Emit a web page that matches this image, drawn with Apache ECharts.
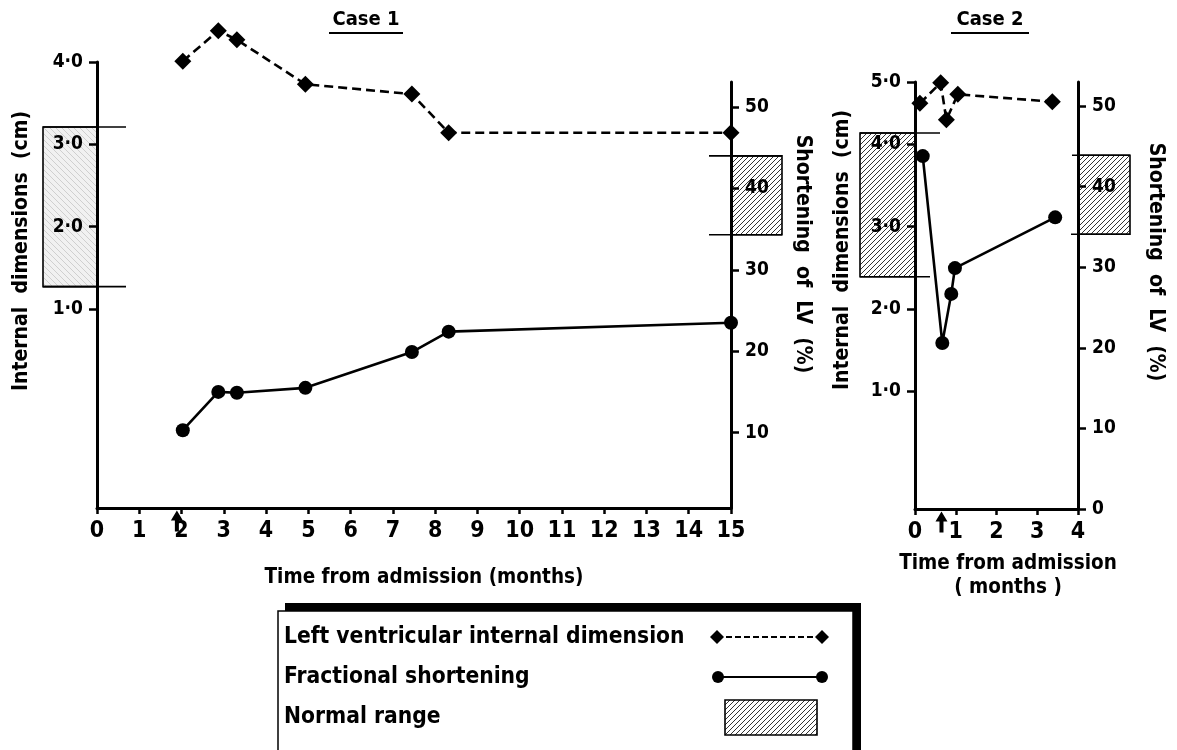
<!DOCTYPE html>
<html><head><meta charset="utf-8">
<script src="https://cdn.jsdelivr.net/npm/echarts@6/dist/echarts.min.js"></script>
<style>html,body{margin:0;padding:0;background:#fff}#c{width:1177px;height:750px}</style>
</head><body><div id="c"></div>
<script>
// ---------- data ----------
const case1Months = [2.03, 2.87, 3.31, 4.93, 7.45, 8.32, 15];
const case1LVID   = [4.01, 4.38, 4.27, 3.73, 3.61, 3.14, 3.14];   // cm
const case1FS     = [10.3, 15.0, 14.9, 15.5, 19.9, 22.4, 23.5];   // %
const case1Arrow  = [1.89];
const case1NormalLVID = [1.27, 3.21];
const case1NormalFS   = [34.3, 44.0];

const case2MonthsLVID = [0.12, 0.63, 0.77, 1.05, 3.37];
const case2LVID       = [4.50, 4.75, 4.30, 4.61, 4.52];
const case2MonthsFS   = [0.19, 0.67, 0.89, 0.98, 3.44];
const case2FS         = [43.8, 20.6, 26.7, 29.9, 36.2];
const case2Arrow      = [0.65];
const case2NormalLVID = [2.39, 4.14];
const case2NormalFS   = [34.1, 43.9];

const case1LeftTicks  = [1, 2, 3, 4];
const case1RightTicks = [10, 20, 30, 40, 50];
const case2LeftTicks  = [1, 2, 3, 4, 4.76];
const case2LeftTickLabels = ['1·0', '2·0', '3·0', '4·0', '5·0'];
const case2RightTicks = [0, 10, 20, 30, 40, 50];

const titles = ['Case 1', 'Case 2'];
const yNameLeft = 'Internal  dimensions  (cm)';
const yNameRight = 'Shortening  of  LV  (%)';
const xName = 'Time from admission (months)';
const xName2 = 'Time from admission\n( months )';
const legendLabels = ['Left ventricular internal dimension', 'Fractional shortening', 'Normal range'];

// ---------- styles ----------
const FF = '"DejaVu Sans Condensed", "DejaVu Sans", sans-serif';
const FN = '"Liberation Sans Narrow", "DejaVu Sans Condensed", sans-serif';
const font = (s) => 'bold ' + s + 'px ' + FF;

function hatch(bg, fg, dir, s, lw) {
  const c = document.createElement('canvas');
  c.width = s; c.height = s;
  const g = c.getContext('2d');
  g.fillStyle = bg; g.fillRect(0, 0, s, s);
  g.strokeStyle = fg; g.lineWidth = lw;
  g.beginPath();
  if (dir === '/') {
    g.moveTo(-1, s + 1); g.lineTo(s + 1, -1);
    g.moveTo(-1, 1); g.lineTo(1, -1);
    g.moveTo(s - 1, s + 1); g.lineTo(s + 1, s - 1);
  } else {
    g.moveTo(-1, -1); g.lineTo(s + 1, s + 1);
    g.moveTo(s - 1, -1); g.lineTo(s + 1, 1);
    g.moveTo(-1, s - 1); g.lineTo(1, s + 1);
  }
  g.stroke();
  return { image: c, repeat: 'repeat' };
}
const hatchDark = hatch('#ffffff', '#333333', '/', 5, 1);
const hatchLight = hatch('#f1f1f1', '#cfcfcf', '\\', 6, 1);

const dec = (v) => v.toFixed(1).replace('.', '·');
const zip = (a, b) => a.map((v, i) => [v, b[i]]);

function yAxisCfg(gridIndex, position, min, max, ticks, formatter) {
  return {
    type: 'value', gridIndex, position, min, max, z: 10,
    axisLine: { show: true, onZero: false, lineStyle: { color: '#000', width: 3 } },
    axisTick: { show: true, customValues: ticks, length: 8, lineStyle: { color: '#000', width: 2.5 } },
    axisLabel: { customValues: ticks, formatter, margin: 14, color: '#000', fontFamily: FF, fontWeight: 'bold', fontSize: 19 },
    splitLine: { show: false }
  };
}
function xAxisCfg(gridIndex, max, show) {
  return {
    type: 'value', gridIndex, min: 0, max, interval: 1, show, z: 10,
    axisLine: { show: true, onZero: false, lineStyle: { color: '#000', width: 3 } },
    axisTick: { show: true, length: 6, lineStyle: { color: '#000', width: 2.5 } },
    axisLabel: { margin: 12, color: '#000', fontFamily: FN, fontWeight: 'bold', fontSize: 23 },
    splitLine: { show: false }
  };
}

function rangeSeries(xi, yi, anchorX, range, side, boxW, extTop, extBot, pattern) {
  return {
    type: 'custom', xAxisIndex: xi, yAxisIndex: yi, clip: false, silent: true, z: 1,
    data: [[anchorX, range[0], range[1]]],
    encode: { x: 0, y: [1, 2] },
    renderItem: function (params, api) {
      const top = api.coord([api.value(0), api.value(2)]);
      const bot = api.coord([api.value(0), api.value(1)]);
      const ax = top[0];
      const x0 = side === 'left' ? ax - boxW : ax;
      const tl = side === 'left' ? x0 : ax - extTop;
      const tr = side === 'left' ? ax + extTop : ax + boxW;
      const bl = side === 'left' ? x0 : ax - extBot;
      const br = side === 'left' ? ax + extBot : ax + boxW;
      const ls = { stroke: '#000', lineWidth: 1.6 };
      return {
        type: 'group', children: [
          { type: 'rect', shape: { x: x0, y: top[1], width: boxW, height: bot[1] - top[1] }, style: { fill: pattern, stroke: '#000', lineWidth: 1.6 } },
          { type: 'line', shape: { x1: tl, y1: top[1], x2: tr, y2: top[1] }, style: ls },
          { type: 'line', shape: { x1: bl, y1: bot[1], x2: br, y2: bot[1] }, style: ls }
        ]
      };
    }
  };
}

const arrowPath = 'path://M6,0 L12,10 L8,10 L8,21 L4,21 L4,10 L0,10 Z';
function arrowSeries(xi, yi, months, yMin) {
  return {
    type: 'scatter', xAxisIndex: xi, yAxisIndex: yi, clip: false, silent: true, z: 12,
    symbol: arrowPath, symbolSize: [12, 21], symbolOffset: [0, 13],
    itemStyle: { color: '#000', opacity: 1 },
    data: months.map(m => [m, yMin])
  };
}
function lvidSeries(xi, yi, data) {
  return {
    type: 'line', xAxisIndex: xi, yAxisIndex: yi, clip: false, z: 4,
    data, symbol: 'diamond', symbolSize: 17, showSymbol: true,
    lineStyle: { color: '#000', width: 2.6, type: [9, 5] },
    itemStyle: { color: '#000' }
  };
}
function fsSeries(xi, yi, data) {
  return {
    type: 'line', xAxisIndex: xi, yAxisIndex: yi, clip: false, z: 4,
    data, symbol: 'circle', symbolSize: 14, showSymbol: true,
    lineStyle: { color: '#000', width: 2.6 },
    itemStyle: { color: '#000' }
  };
}

// axis ranges
const c1L = [-1.42, 4.0], c1R = [0.74, 53.07], c2L = [-0.437, 4.76], c2R = [0, 53];

const textEl = (text, x, y, size, rot, align) => ({
  type: 'text', x, y, rotation: rot || 0, silent: true, z: 20,
  style: { text, font: font(size), fill: '#000', textAlign: align || 'center', textVerticalAlign: 'middle' }
});

const option = {
  animation: false,
  backgroundColor: '#fff',
  textStyle: { fontFamily: FF, fontWeight: 'bold', color: '#000' },
  grid: [
    { left: 97, top: 62, width: 634, height: 446 },
    { left: 97, top: 82, width: 634, height: 426 },
    { left: 915, top: 82, width: 163, height: 427 }
  ],
  xAxis: [xAxisCfg(0, 15, true), xAxisCfg(1, 15, false), xAxisCfg(2, 4, true)],
  yAxis: [
    yAxisCfg(0, 'left', c1L[0], c1L[1], case1LeftTicks, dec),
    yAxisCfg(1, 'right', c1R[0], c1R[1], case1RightTicks, (v) => String(v)),
    yAxisCfg(2, 'left', c2L[0], c2L[1], case2LeftTicks, (v) => {
      let k = 0; case2LeftTicks.forEach((t, i) => { if (Math.abs(t - v) < Math.abs(case2LeftTicks[k] - v)) k = i; });
      return case2LeftTickLabels[k];
    }),
    yAxisCfg(2, 'right', c2R[0], c2R[1], case2RightTicks, (v) => String(v))
  ],
  series: [
    rangeSeries(0, 0, 0, case1NormalLVID, 'left', 54, 29, 29, hatchLight),
    rangeSeries(1, 1, 15, case1NormalFS, 'right', 51, 22, 22, hatchDark),
    rangeSeries(2, 2, 0, case2NormalLVID, 'left', 55, 25, 15, hatchDark),
    rangeSeries(2, 3, 4, case2NormalFS, 'right', 52, 6, 7, hatchDark),
    lvidSeries(0, 0, zip(case1Months, case1LVID)),
    fsSeries(1, 1, zip(case1Months, case1FS)),
    lvidSeries(2, 2, zip(case2MonthsLVID, case2LVID)),
    fsSeries(2, 3, zip(case2MonthsFS, case2FS)),
    arrowSeries(0, 0, case1Arrow, c1L[0]),
    arrowSeries(2, 2, case2Arrow, c2L[0])
  ],
  graphic: [
    textEl(titles[0], 366, 20, 20),
    { type: 'line', silent: true, shape: { x1: 329, y1: 33, x2: 403, y2: 33 }, style: { stroke: '#000', lineWidth: 1.8 } },
    textEl(titles[1], 990, 20, 20),
    { type: 'line', silent: true, shape: { x1: 951, y1: 33, x2: 1029, y2: 33 }, style: { stroke: '#000', lineWidth: 1.8 } },
    textEl(yNameLeft, 22, 251, 21, Math.PI / 2),
    textEl(yNameRight, 802, 254, 21, -Math.PI / 2),
    textEl(yNameLeft, 843, 250, 21, Math.PI / 2),
    textEl(yNameRight, 1155, 262, 21, -Math.PI / 2),
    textEl(xName, 424, 578, 20.5),
    { type: 'text', x: 1008, y: 576, silent: true, style: { text: xName2, font: font(20.5), fill: '#000', textAlign: 'center', textVerticalAlign: 'middle', lineHeight: 24 } },
    // legend
    { type: 'rect', silent: true, shape: { x: 285, y: 603, width: 576, height: 170 }, style: { fill: '#000' } },
    { type: 'rect', silent: true, shape: { x: 278, y: 611, width: 575, height: 170 }, style: { fill: '#fff', stroke: '#000', lineWidth: 1.5 } },
    textEl(legendLabels[0], 284, 637, 22.6, 0, 'left'),
    textEl(legendLabels[1], 284, 677, 22.6, 0, 'left'),
    textEl(legendLabels[2], 284, 717, 22.6, 0, 'left'),
    { type: 'line', silent: true, shape: { x1: 717, y1: 637, x2: 822, y2: 637 }, style: { stroke: '#000', lineWidth: 1.8, lineDash: [6, 3] } },
    { type: 'polygon', silent: true, shape: { points: [[717, 630], [724, 637], [717, 644], [710, 637]] }, style: { fill: '#000' } },
    { type: 'polygon', silent: true, shape: { points: [[822, 630], [829, 637], [822, 644], [815, 637]] }, style: { fill: '#000' } },
    { type: 'line', silent: true, shape: { x1: 717, y1: 677, x2: 822, y2: 677 }, style: { stroke: '#000', lineWidth: 2 } },
    { type: 'circle', silent: true, shape: { cx: 718, cy: 677, r: 6 }, style: { fill: '#000' } },
    { type: 'circle', silent: true, shape: { cx: 822, cy: 677, r: 6 }, style: { fill: '#000' } },
    { type: 'rect', silent: true, shape: { x: 725, y: 700, width: 92, height: 35 }, style: { fill: hatchDark, stroke: '#000', lineWidth: 1.6 } }
  ]
};

const chart = echarts.init(document.getElementById('c'), null, { renderer: 'canvas' });
chart.setOption(option);
</script>
</body></html>
